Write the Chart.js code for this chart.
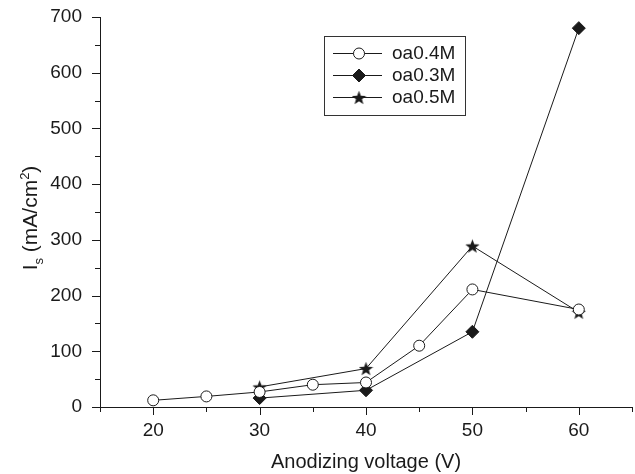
<!DOCTYPE html>
<html lang="en">
<head>
<meta charset="UTF-8">
<title>Is vs anodizing voltage</title>
<script src="https://cdn.jsdelivr.net/npm/chart.js@4.4.7/dist/chart.umd.min.js"></script>
<style>
*{margin:0;padding:0;box-sizing:border-box}
body{background:#fff;width:635px;height:474px;overflow:hidden}
#wrap{position:relative;width:635px;height:474px}
</style>
</head>
<body>
<div id="wrap"><canvas id="c" width="635" height="474"></canvas></div>
<script>
// values
var VOLT_04 = [20, 25, 30, 35, 40, 45, 50, 60];
var OA_04 = [12, 19, 27, 40, 44, 110, 211, 175];
var VOLT_03 = [30, 40, 50, 60];
var OA_03 = [16, 30, 135, 680];
var VOLT_05 = [30, 40, 50, 60];
var OA_05 = [36, 69, 289, 170];
var NAMES = ["oa0.4M", "oa0.3M", "oa0.5M"];
var X_LABELS = [20, 30, 40, 50, 60];
var Y_LABELS = [0, 100, 200, 300, 400, 500, 600, 700];

var FONT = "'Liberation Sans', Arial, sans-serif";
var INK = "#1a1a1a";

function pts(xs, ys) {
  return xs.map(function (x, i) { return { x: x, y: ys[i] }; });
}

// filled five-point star for the oa0.5M markers
function starImage(size) {
  var c = document.createElement("canvas");
  c.width = size; c.height = size;
  var g = c.getContext("2d");
  var cx = size / 2, cy = size / 2 + 0.7, ro = size / 2, ri = ro * 0.42;
  g.beginPath();
  for (var i = 0; i < 10; i++) {
    var r = i % 2 ? ri : ro;
    var a = -Math.PI / 2 + i * Math.PI / 5;
    g.lineTo(cx + r * Math.cos(a), cy + r * Math.sin(a));
  }
  g.closePath();
  g.fillStyle = INK;
  g.fill();
  return c;
}
var STAR = starImage(15);

// stretch the x axis to 3px from the right edge (chart.js keeps extra room there)
var rightEdgePlugin = {
  id: "rightedge",
  afterLayout: function (chart) {
    var xs = chart.scales.x, a = chart.chartArea;
    var r = chart.width - 3;
    xs.right = r;
    xs.width = r - xs.left;
    a.right = r;
    a.width = r - a.left;
    xs.configure();
  }
};

// tick marks: long at labelled values, short between
var tickPlugin = {
  id: "ticks",
  afterDraw: function (chart) {
    var ctx = chart.ctx, xs = chart.scales.x, ys = chart.scales.y;
    ctx.save();
    ctx.strokeStyle = INK;
    ctx.lineWidth = 1;
    ctx.beginPath();
    xs.ticks.forEach(function (t) {
      var px = Math.round(xs.getPixelForValue(t.value)) + 0.5;
      var len = X_LABELS.indexOf(t.value) >= 0 ? 8 : 5;
      ctx.moveTo(px, xs.top);
      ctx.lineTo(px, xs.top + len);
    });
    ys.ticks.forEach(function (t) {
      var py = Math.round(ys.getPixelForValue(t.value)) + 0.5;
      var len = Y_LABELS.indexOf(t.value) >= 0 ? 8 : 5;
      ctx.moveTo(ys.right, py);
      ctx.lineTo(ys.right - len, py);
    });
    ctx.stroke();
    ctx.restore();
  }
};

// y title with subscript s and superscript 2
var yTitlePlugin = {
  id: "ytitle",
  afterDraw: function (chart) {
    var ctx = chart.ctx, a = chart.chartArea;
    var parts = [
      { t: "I", size: 21, dy: 0 },
      { t: "s", size: 13, dy: 6 },
      { t: " (mA/cm", size: 21, dy: 0 },
      { t: "2", size: 13, dy: -8 },
      { t: ")", size: 21, dy: 0 }
    ];
    ctx.save();
    var total = 0;
    parts.forEach(function (p) {
      ctx.font = p.size + "px " + FONT;
      p.w = ctx.measureText(p.t).width;
      total += p.w;
    });
    ctx.translate(37, (a.top + a.bottom) / 2 + 6);
    ctx.rotate(-Math.PI / 2);
    ctx.fillStyle = INK;
    ctx.textBaseline = "alphabetic";
    var x = -total / 2;
    parts.forEach(function (p) {
      ctx.font = p.size + "px " + FONT;
      ctx.fillText(p.t, x, p.dy);
      x += p.w;
    });
    ctx.restore();
  }
};

// boxed legend with line + marker samples
var legendPlugin = {
  id: "boxlegend",
  afterDraw: function (chart) {
    var ctx = chart.ctx, a = chart.chartArea;
    var bx = a.left + 224, by = a.top + 19, bw = 141, bh = 79, row = 22;
    ctx.save();
    ctx.strokeStyle = "#333";
    ctx.lineWidth = 1;
    ctx.strokeRect(bx + 0.5, by + 0.5, bw, bh);
    chart.data.datasets.forEach(function (ds, i) {
      var y = by + 17 + i * row;
      ctx.strokeStyle = INK;
      ctx.beginPath();
      ctx.moveTo(bx + 9, y + 0.5);
      ctx.lineTo(bx + 58, y + 0.5);
      ctx.stroke();
      ctx.fillStyle = ds.pointBackgroundColor;
      ctx.strokeStyle = ds.pointBorderColor;
      ctx.lineWidth = 1;
      Chart.helpers.drawPoint(ctx, {
        pointStyle: ds.pointStyle, radius: ds.pointRadius, rotation: 0, borderWidth: 1
      }, bx + 35, y + 0.5);
      ctx.fillStyle = INK;
      ctx.font = "19px " + FONT;
      ctx.textBaseline = "middle";
      ctx.fillText(NAMES[i], bx + 68, y + 1);
    });
    ctx.restore();
  }
};

function series(label, data, style, radius, fill) {
  return {
    label: label, data: data, borderColor: INK, borderWidth: 1,
    pointStyle: style, pointRadius: radius, pointHoverRadius: radius,
    pointBackgroundColor: fill, pointBorderColor: INK, pointBorderWidth: 1,
    tension: 0, fill: false
  };
}

new Chart(document.getElementById("c"), {
  type: "line",
  data: {
    datasets: [
      series(NAMES[0], pts(VOLT_04, OA_04), "circle", 5.5, "#fff"),
      series(NAMES[1], pts(VOLT_03, OA_03), "rectRot", 6.5, INK),
      series(NAMES[2], pts(VOLT_05, OA_05), STAR, 7, INK)
    ]
  },
  options: {
    responsive: false,
    animation: false,
    events: [],
    layout: { padding: { left: 0, right: 3, top: 17, bottom: 0 } },
    plugins: { legend: { display: false }, tooltip: { enabled: false } },
    scales: {
      x: {
        type: "linear", min: 15, max: 65,
        grid: { drawOnChartArea: false, drawTicks: false },
        border: { display: true, color: INK, width: 1 },
        ticks: {
          stepSize: 5, autoSkip: false, maxRotation: 0, padding: 12,
          color: INK, font: { family: FONT, size: 19 },
          callback: function (v) { return X_LABELS.indexOf(v) >= 0 ? String(v) : ""; }
        },
        title: {
          display: true, text: "Anodizing voltage (V)", color: INK,
          font: { family: FONT, size: 20 }, padding: { top: 0, bottom: 0 }
        },
        afterFit: function (s) { s.height = 67; s.paddingLeft = 0; s.paddingRight = 0; }
      },
      y: {
        min: 0, max: 700,
        grid: { drawOnChartArea: false, drawTicks: false },
        border: { display: true, color: INK, width: 1 },
        ticks: {
          stepSize: 50, autoSkip: false, padding: 18,
          color: INK, font: { family: FONT, size: 19 },
          callback: function (v) { return Y_LABELS.indexOf(v) >= 0 ? String(v) : ""; }
        },
        afterFit: function (s) { s.width = 100; s.paddingTop = 0; s.paddingBottom = 0; }
      }
    }
  },
  plugins: [rightEdgePlugin, tickPlugin, yTitlePlugin, legendPlugin]
});
</script>
</body>
</html>
